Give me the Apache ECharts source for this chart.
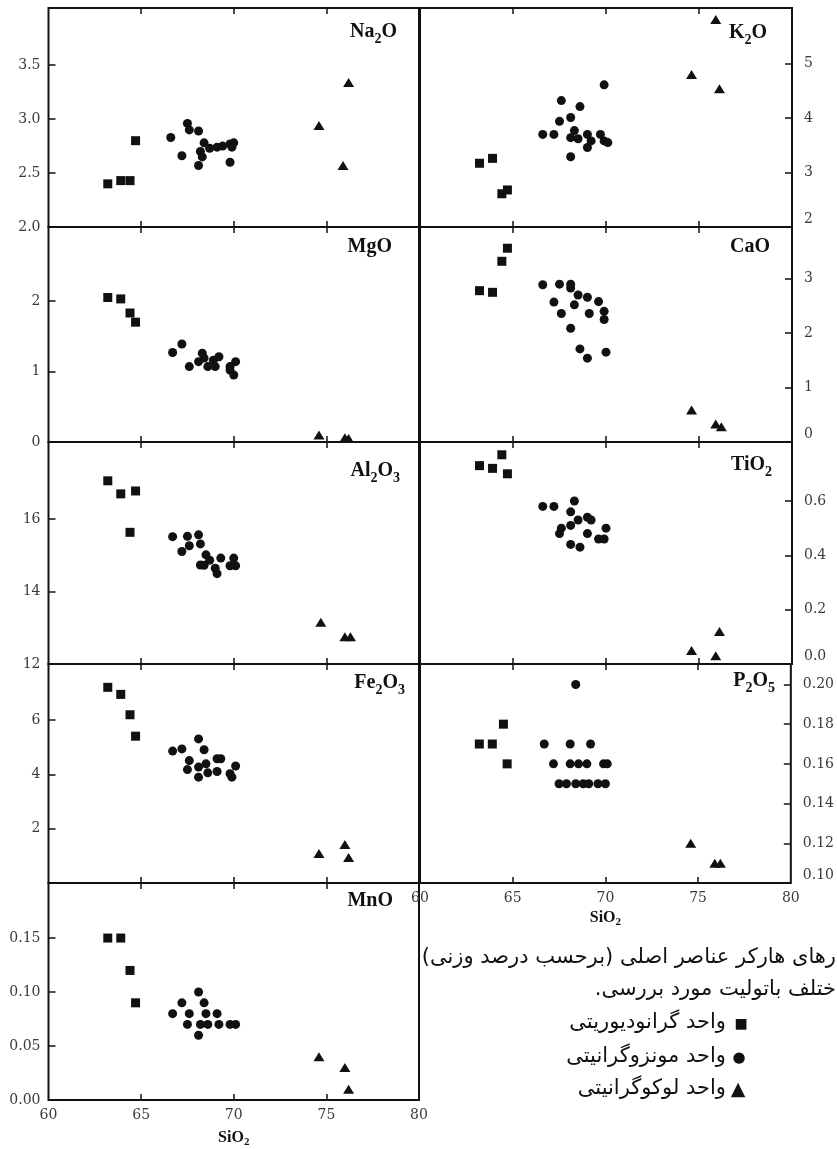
<!DOCTYPE html>
<html>
<head>
<meta charset="utf-8">
<script src="https://cdn.jsdelivr.net/npm/echarts@6/dist/echarts.min.js"></script>
<style>
html,body{margin:0;padding:0;background:#fff;}
#c{width:837px;height:1149px;}
</style>
</head>
<body>
<div id="c"></div>
<script>
// ---- Data: [SiO2, oxide] for granodiorite (squares), monzogranite (circles), leucogranite (triangles)
const na2oSq = [[63.2,2.40],[63.9,2.43],[64.4,2.43],[64.7,2.80]];
const na2oCi = [[66.6,2.83],[67.2,2.66],[67.5,2.96],[67.6,2.90],[68.1,2.89],[68.1,2.57],[68.2,2.70],[68.3,2.65],[68.4,2.78],[68.7,2.73],[69.1,2.74],[69.4,2.75],[69.8,2.77],[69.9,2.74],[70.0,2.78],[69.8,2.60]];
const na2oTr = [[74.6,2.94],[75.9,2.57],[76.2,3.34]];

const k2oSq = [[63.2,3.17],[63.9,3.26],[64.4,2.61],[64.7,2.68]];
const k2oCi = [[66.6,3.70],[67.2,3.70],[67.5,3.94],[67.6,4.32],[68.1,4.01],[68.1,3.29],[68.3,3.77],[68.1,3.64],[68.6,4.21],[68.5,3.62],[69.0,3.46],[69.0,3.70],[69.2,3.58],[69.7,3.70],[69.9,3.58],[70.1,3.55],[69.9,4.61]];
const k2oTr = [[74.6,4.80],[76.1,4.54],[75.9,5.81]];

const mgoSq = [[63.2,2.05],[63.9,2.03],[64.4,1.83],[64.7,1.70]];
const mgoCi = [[66.7,1.27],[67.2,1.39],[67.6,1.07],[68.1,1.14],[68.3,1.26],[68.4,1.19],[68.6,1.07],[68.9,1.16],[69.2,1.21],[69.0,1.07],[69.8,1.07],[70.0,0.95],[70.1,1.14],[69.8,1.02]];
const mgoTr = [[74.6,0.10],[76.0,0.06],[76.2,0.05]];

const caoSq = [[63.2,2.78],[63.9,2.75],[64.4,3.32],[64.7,3.56]];
const caoCi = [[66.6,2.89],[67.5,2.90],[68.1,2.90],[68.1,2.83],[68.5,2.70],[69.0,2.66],[67.2,2.57],[68.3,2.52],[69.6,2.58],[67.6,2.36],[69.1,2.36],[69.9,2.40],[69.9,2.25],[68.1,2.09],[68.6,1.71],[69.0,1.54],[70.0,1.65]];
const caoTr = [[74.6,0.59],[75.9,0.33],[76.2,0.28]];

const al2o3Sq = [[63.2,17.05],[63.9,16.69],[64.7,16.77],[64.4,15.63]];
const al2o3Ci = [[66.7,15.51],[67.5,15.52],[68.1,15.56],[67.6,15.26],[67.2,15.10],[68.2,15.31],[68.5,15.01],[69.3,14.92],[68.2,14.73],[68.7,14.86],[69.0,14.64],[69.1,14.49],[70.0,14.92],[69.8,14.71],[70.1,14.71],[68.4,14.72]];
const al2o3Tr = [[74.7,13.15],[76.0,12.75],[76.3,12.75]];

const tio2Sq = [[63.2,0.73],[63.9,0.72],[64.4,0.77],[64.7,0.70]];
const tio2Ci = [[66.6,0.58],[67.2,0.58],[68.3,0.60],[68.1,0.56],[69.0,0.54],[69.2,0.53],[68.5,0.53],[68.1,0.51],[67.6,0.50],[67.5,0.48],[70.0,0.50],[69.0,0.48],[69.6,0.46],[69.9,0.46],[68.1,0.44],[68.6,0.43]];
const tio2Tr = [[74.6,0.05],[75.9,0.03],[76.1,0.12]];

const fe2o3Sq = [[63.2,7.21],[63.9,6.95],[64.4,6.20],[64.7,5.41]];
const fe2o3Ci = [[66.7,4.86],[67.2,4.94],[67.6,4.51],[67.5,4.18],[68.1,5.31],[68.4,4.91],[68.1,4.27],[68.1,3.90],[68.5,4.39],[68.6,4.06],[69.1,4.58],[69.3,4.58],[69.1,4.11],[69.8,4.03],[69.9,3.90],[70.1,4.31]];
const fe2o3Tr = [[74.6,1.09],[76.0,1.42],[76.2,0.94]];

const p2o5Sq = [[63.2,0.17],[63.9,0.17],[64.5,0.18],[64.7,0.16]];
const p2o5Ci = [[68.4,0.20],[66.7,0.17],[68.1,0.17],[69.2,0.17],[67.2,0.16],[68.1,0.16],[68.55,0.16],[69.0,0.16],[69.9,0.16],[70.1,0.16],[67.5,0.15],[67.9,0.15],[68.4,0.15],[68.8,0.15],[69.1,0.15],[69.6,0.15],[70.0,0.15]];
const p2o5Tr = [[74.6,0.12],[75.9,0.11],[76.2,0.11]];

const mnoSq = [[63.2,0.15],[63.9,0.15],[64.4,0.12],[64.7,0.09]];
const mnoCi = [[68.1,0.10],[67.2,0.09],[68.4,0.09],[66.7,0.08],[67.6,0.08],[68.5,0.08],[69.1,0.08],[67.5,0.07],[68.2,0.07],[68.6,0.07],[69.2,0.07],[69.8,0.07],[70.1,0.07],[68.1,0.06]];
const mnoTr = [[74.6,0.04],[76.0,0.03],[76.2,0.01]];

// ---- Tick labels
const xTicks = [65,70,75];
const xLabels = [60,65,70,75,80];
const na2oTicks = [2.0,2.5,3.0,3.5];
const k2oTicks = [2,3,4,5];
const mgoTicks = [0,1,2];
const caoTicks = [0,1,2,3];
const al2o3Ticks = [12,14,16];
const tio2Ticks = [0.0,0.2,0.4,0.6];
const fe2o3Ticks = [2,4,6];
const p2o5Ticks = [0.10,0.12,0.14,0.16,0.18,0.20];
const mnoTicks = [0.00,0.05,0.10,0.15];

// ---- Caption texts
const caption1 = 'رهای هارکر عناصر اصلی (برحسب درصد وزنی)';
const caption2 = 'ختلف باتولیت مورد بررسی.';
const legendNames = ['واحد گرانودیوریتی','واحد مونزوگرانیتی','واحد لوکوگرانیتی'];
const legendMarks = ['■','●','▲'];

// ---- Layout
const cols = [{left:48.5,width:370.5},{left:420,width:372}];
const rows = [{top:8,height:219},{top:227,height:215},{top:442,height:222},{top:664,height:219},{top:883,height:221}];

const panels = [
  {label:'{m|Na}{s|2}{m|O}', col:0,row:0,min:2,max:4.03,ticks:na2oTicks,dec:1,d:[na2oSq,na2oCi,na2oTr],lr:440,lt:8.5,xlab:false},
  {label:'{m|K}{s|2}{m|O}', col:1,row:0,min:2,max:6.02,ticks:k2oTicks,dec:0,d:[k2oSq,k2oCi,k2oTr],lr:70,lt:9.5,xlab:false},
  {label:'{m|MgO}', col:0,row:1,min:0,max:3.05,ticks:mgoTicks,dec:0,d:[mgoSq,mgoCi,mgoTr],lr:445,lt:10,xlab:false},
  {label:'{m|CaO}', col:1,row:1,min:0,max:3.95,ticks:caoTicks,dec:0,d:[caoSq,caoCi,caoTr],lr:67,lt:10,xlab:false},
  {label:'{m|Al}{s|2}{m|O}{s|3}', col:0,row:2,min:12,max:18.12,ticks:al2o3Ticks,dec:0,d:[al2o3Sq,al2o3Ci,al2o3Tr],lr:437,lt:13.5,xlab:false},
  {label:'{m|TiO}{s|2}', col:1,row:2,min:0,max:0.817,ticks:tio2Ticks,dec:1,d:[tio2Sq,tio2Ci,tio2Tr],lr:65,lt:7.5,xlab:false},
  {label:'{m|Fe}{s|2}{m|O}{s|3}', col:0,row:3,min:0,max:8.07,ticks:fe2o3Ticks,dec:0,d:[fe2o3Sq,fe2o3Ci,fe2o3Tr],lr:432,lt:3.5,xlab:false},
  {label:'{m|P}{s|2}{m|O}{s|5}', col:1,row:3,min:0.10,max:0.2103,ticks:p2o5Ticks,dec:2,d:[p2o5Sq,p2o5Ci,p2o5Tr],lr:62,lt:1.5,xlab:true,gap:24},
  {label:'{m|MnO}', col:0,row:4,min:0,max:0.201,ticks:mnoTicks,dec:2,d:[mnoSq,mnoCi,mnoTr],lr:444,lt:7.5,xlab:true,gap:27}
];

const INK = '#111111';
const LAB = '#3a3a3a';
const tickFont = {fontFamily:'"DejaVu Serif", serif', fontSize:14, color:LAB};
const richLabel = {
  m:{fontFamily:'"Liberation Serif", serif', fontWeight:'bold', fontSize:20, color:INK},
  s:{fontFamily:'"Liberation Serif", serif', fontWeight:'bold', fontSize:14, color:INK, padding:[16,0,0,0]}
};
const richAxis = {
  m:{fontFamily:'"Liberation Serif", serif', fontWeight:'bold', fontSize:16, color:INK},
  s:{fontFamily:'"Liberation Serif", serif', fontWeight:'bold', fontSize:11, color:INK, padding:[10,0,0,0]}
};
const richTick = {
  v:{fontFamily:'"DejaVu Serif", serif', fontSize:14, color:LAB},
  low:{fontFamily:'"DejaVu Serif", serif', fontSize:14, color:LAB, padding:[0,0,16,0]}
};
const symbols = [
  {symbol:'rect', size:9},
  {symbol:'circle', size:9},
  {symbol:'triangle', size:[11,9]}
];

const grid = [], xAxis = [], yAxis = [], series = [], title = [];
panels.forEach((p, i) => {
  const c = cols[p.col], r = rows[p.row];
  grid.push({left:c.left, top:r.top, width:c.width, height:r.height, show:true,
    borderColor:INK, borderWidth:2, backgroundColor:'transparent'});
  const tickStyle = {show:true, inside:true, length:6, customValues:xTicks, lineStyle:{color:INK, width:1.5}};
  xAxis.push({
    gridIndex:i, type:'value', min:60, max:80, position:'bottom',
    axisLine:{show:false}, splitLine:{show:false}, axisTick:tickStyle,
    axisLabel:{show:p.xlab, customValues:xLabels, margin:8, ...tickFont},
    name: p.xlab ? '{m|SiO}{s|2}' : '', nameLocation:'middle', nameGap:p.gap || 25,
    nameTextStyle:{rich:richAxis}
  });
  xAxis.push({
    gridIndex:i, type:'value', min:60, max:80, position:'top',
    axisLine:{show:false}, splitLine:{show:false}, axisTick:tickStyle,
    axisLabel:{show:false}
  });
  const rightCol = p.col === 1;
  yAxis.push({
    gridIndex:i, type:'value', min:p.min, max:p.max, position:rightCol?'right':'left',
    axisLine:{show:false}, splitLine:{show:false},
    axisTick:{show:true, inside:true, length:7, customValues:p.ticks, lineStyle:{color:INK, width:1.5}},
    axisLabel:{customValues:p.ticks, margin:rightCol?12:8,
      formatter:(v)=>{
        const s = Number(v).toFixed(p.dec);
        return (rightCol && Math.abs(v - p.ticks[0]) < 1e-9) ? '{low|' + s + '}' : '{v|' + s + '}';
      },
      rich:richTick, ...tickFont}
  });
  p.d.forEach((arr, k) => {
    series.push({
      type:'scatter', xAxisIndex:2*i, yAxisIndex:i, data:arr,
      symbol:symbols[k].symbol, symbolSize:symbols[k].size,
      itemStyle:{color:INK, opacity:1}, silent:true, animation:false
    });
  });
  title.push({text:p.label, right:p.lr, top:r.top + p.lt, padding:0, textStyle:{rich:richLabel}});
});

const RLM = '\u200F';
const pFont = '21px "DejaVu Sans", sans-serif';
function ptext(t, x, y){
  return {type:'text', x:x, y:y, style:{text:RLM + t + RLM, font:pFont, fill:'#111',
    align:'right', verticalAlign:'middle', textAlign:'right', textVerticalAlign:'middle'}};
}
function mark(t, x, y, size){
  return {type:'text', x:x, y:y, style:{text:t, font:size + 'px "DejaVu Sans", sans-serif', fill:'#111',
    align:'center', verticalAlign:'middle', textAlign:'center', textVerticalAlign:'middle'}};
}
const legendY = [1023, 1057, 1089];
const markSizes = [14, 15, 19];
const markX = [741, 739, 738];
const elements = [ptext(caption1, 836, 958), ptext(caption2, 836, 990)];
legendNames.forEach((n, k) => {
  elements.push(ptext(n, 726, legendY[k]));
  elements.push(mark(legendMarks[k], markX[k], legendY[k] + 1, markSizes[k]));
});

const chart = echarts.init(document.getElementById('c'), null, {renderer:'canvas'});
chart.setOption({
  animation:false,
  backgroundColor:'#ffffff',
  title, grid, xAxis, yAxis, series,
  graphic:{elements}
});
</script>
</body>
</html>
